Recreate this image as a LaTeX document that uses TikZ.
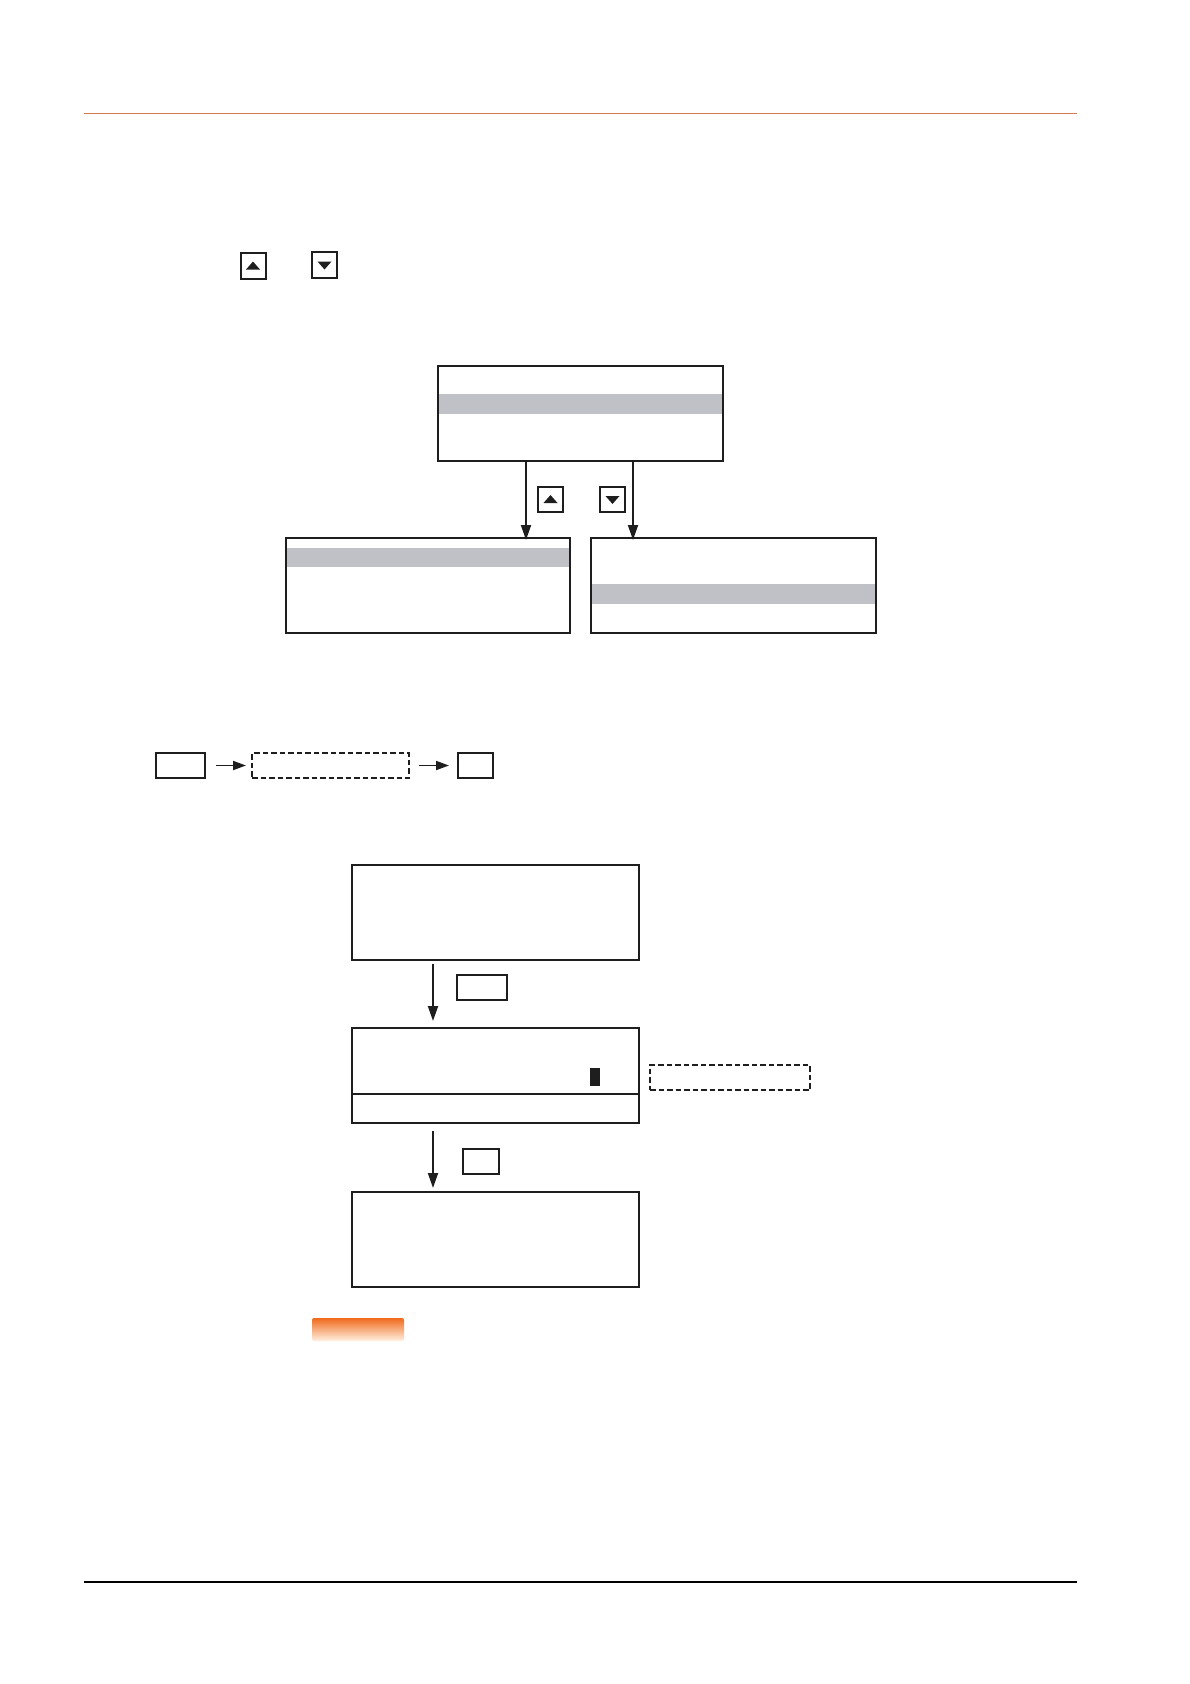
\documentclass[tikz,border=0pt]{standalone}
\usetikzlibrary{arrows.meta,calc}
\definecolor{ink}{HTML}{1E1E1E}
\definecolor{band}{HTML}{C0C1C6}
\definecolor{rule}{HTML}{D47A4E}
\definecolor{tabtop}{HTML}{F06A1C}
\definecolor{tabbot}{HTML}{FFF1E2}
\tikzset{
  box/.style={draw=ink, line width=1.9pt, inner sep=0pt, outer sep=0pt},
  dbox/.style={box, line width=1.5pt, dash pattern=on 5.5pt off 3pt},
  keybox/.style={box, line width=2pt, minimum width=25pt, minimum height=25.5pt},
  arr/.style={draw=ink, line width=1.9pt, -{Triangle[length=15pt,width=10pt]}},
  harr/.style={draw=ink, line width=1.9pt, -{Triangle[length=13pt,width=9pt]}}
}
\begin{document}
\begin{tikzpicture}[x=1pt,y=-1pt]
\useasboundingbox (0,0) rectangle (1190,1684);

% header and footer rules
\coordinate (hl) at (84,113);
\coordinate (hr) at (1077,113);
\draw[rule, line width=0.9pt] (hl) -- (hr);
\coordinate (fl) at (84,1582);
\coordinate (fr) at (1077,1582);
\draw[black, line width=2.5pt] (fl) -- (fr);

% key symbols in text line
\node[keybox] (k1) at (253,266) {};
\fill[ink] ($(k1.center)+(-7,3.5)$) -- ($(k1.center)+(7,3.5)$) -- ($(k1.center)+(0,-4.5)$) -- cycle;
\node[keybox] (k2) at (324.5,265) {};
\fill[ink] ($(k2.center)+(-7,-3.5)$) -- ($(k2.center)+(7,-3.5)$) -- ($(k2.center)+(0,4.5)$) -- cycle;

% top menu
\fill[band] (438,394) rectangle (723,414);
\node[box, minimum width=285pt, minimum height=95pt] (top) at (580.5,413.5) {};
\fill[band] (286,548) rectangle (570,567);
\node[box, minimum width=284pt, minimum height=95pt] (ml) at (428,585.5) {};
\fill[band] (591,584) rectangle (876,604);
\node[box, minimum width=285pt, minimum height=95pt] (mr) at (733.5,585.5) {};

\coordinate (ax1) at (526,0);
\coordinate (ax2) at (633,0);
\draw[arr] (top.south -| ax1) -- ([yshift=-2pt]ml.north -| ax1);
\draw[arr] (top.south -| ax2) -- ([yshift=-2pt]mr.north -| ax2);

\node[keybox] (k3) at (550.5,499.5) {};
\fill[ink] ($(k3.center)+(-7,3.5)$) -- ($(k3.center)+(7,3.5)$) -- ($(k3.center)+(0,-4.5)$) -- cycle;
\node[keybox] (k4) at (612.5,499.5) {};
\fill[ink] ($(k4.center)+(-7,-3.5)$) -- ($(k4.center)+(7,-3.5)$) -- ($(k4.center)+(0,4.5)$) -- cycle;

% sequence row
\node[box, minimum width=49pt, minimum height=25pt] (r1) at (180.5,765.5) {};
\node[dbox, minimum width=157pt, minimum height=25pt] (r2) at (330.5,765.5) {};
\node[box, minimum width=35pt, minimum height=25pt] (r3) at (475.5,765.5) {};
\draw[harr, shorten <=11pt, shorten >=6pt] (r1.east) -- (r2.west);
\draw[harr, shorten <=10pt, shorten >=9pt] (r2.east) -- (r3.west);

% screens
\node[box, minimum width=287pt, minimum height=95pt] (sa) at (495.5,912.5) {};
\node[box, minimum width=287pt, minimum height=95pt] (sb) at (495.5,1075.5) {};
\coordinate (sbd) at (0,1094);
\draw[ink, line width=1.9pt] (sb.west |- sbd) -- (sb.east |- sbd);
\fill[ink] (590,1068) rectangle (600,1085.5);
\node[box, minimum width=287pt, minimum height=95pt] (sc) at (495.75,1239.5) {};

\coordinate (ax3) at (433,0);
\draw[arr, shorten <=4pt, shorten >=7pt] (sa.south -| ax3) -- (sb.north -| ax3);
\draw[arr, shorten <=8pt, shorten >=4pt] (sb.south -| ax3) -- (sc.north -| ax3);

\node[box, minimum width=50pt, minimum height=25pt] (b1) at (482,987.5) {};
\node[box, minimum width=36pt, minimum height=25pt] (b2) at (481,1161.5) {};
\node[dbox, minimum width=160pt, minimum height=25pt] (dr) at (730,1077.5) {};

% orange tab
\shade[top color=tabtop, bottom color=tabbot, rounded corners=2pt] (312,1318) rectangle (404,1341);
\end{tikzpicture}
\end{document}
